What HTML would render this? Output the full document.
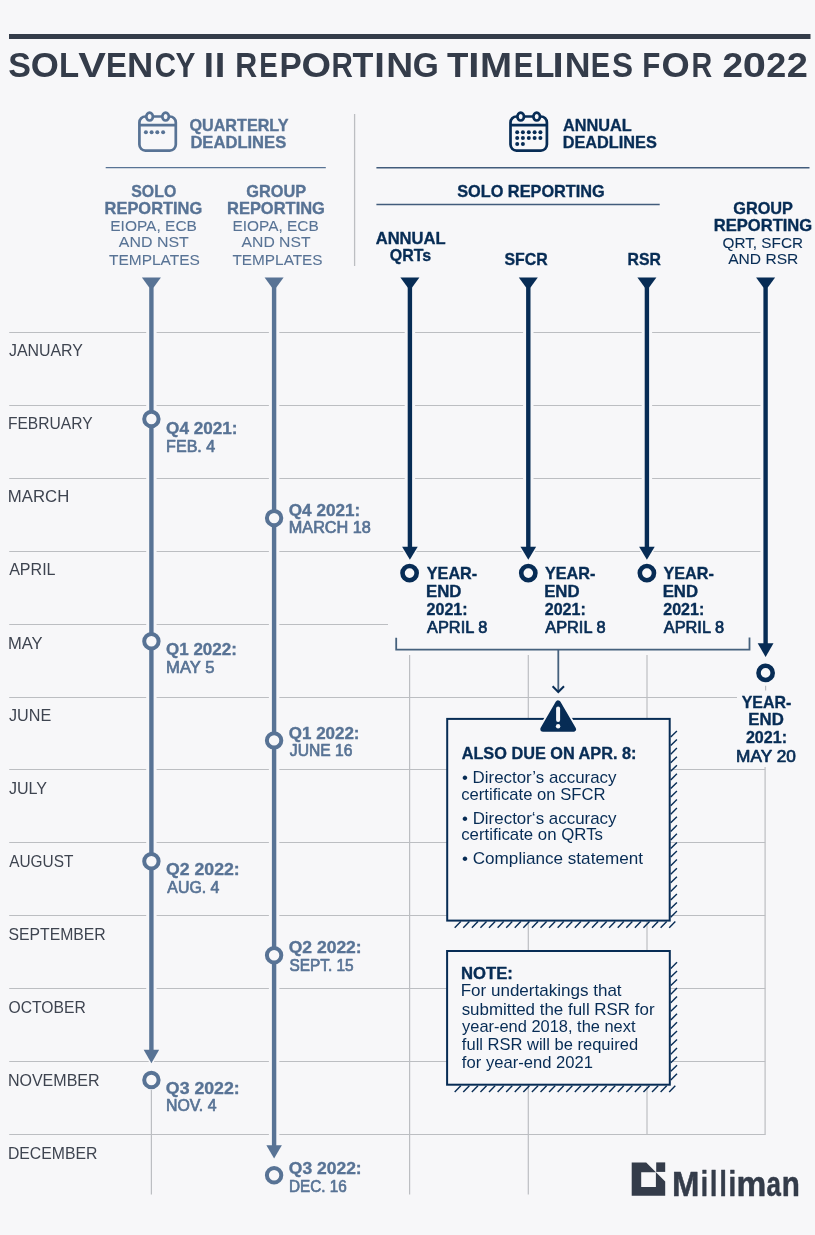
<!DOCTYPE html>
<html><head><meta charset="utf-8"><title>Solvency II Reporting Timelines for 2022</title>
<style>
html,body{margin:0;padding:0;background:#f7f7f9;}
body{width:815px;height:1235px;overflow:hidden;}
svg{display:block;will-change:transform;font-family:"Liberation Sans",sans-serif;}
</style></head><body>
<svg width="815" height="1235" viewBox="0 0 815 1235">
<rect width="815" height="1235" fill="#f7f7f9"/>
<line x1="9.2" y1="332.5" x2="765.6" y2="332.5" stroke="#bcbec2" stroke-width="1.2"/>
<line x1="9.2" y1="405.5" x2="765.6" y2="405.5" stroke="#bcbec2" stroke-width="1.2"/>
<line x1="9.2" y1="478.5" x2="765.6" y2="478.5" stroke="#bcbec2" stroke-width="1.2"/>
<line x1="9.2" y1="551.5" x2="765.6" y2="551.5" stroke="#bcbec2" stroke-width="1.2"/>
<line x1="9.2" y1="624.5" x2="388" y2="624.5" stroke="#bcbec2" stroke-width="1.2"/>
<line x1="9.2" y1="697.5" x2="737" y2="697.5" stroke="#bcbec2" stroke-width="1.2"/>
<line x1="9.2" y1="769.5" x2="765.2" y2="769.5" stroke="#bcbec2" stroke-width="1.2"/>
<line x1="9.2" y1="842.5" x2="765.2" y2="842.5" stroke="#bcbec2" stroke-width="1.2"/>
<line x1="9.2" y1="915.5" x2="765.2" y2="915.5" stroke="#bcbec2" stroke-width="1.2"/>
<line x1="9.2" y1="988.5" x2="765.2" y2="988.5" stroke="#bcbec2" stroke-width="1.2"/>
<line x1="9.2" y1="1061.5" x2="765.2" y2="1061.5" stroke="#bcbec2" stroke-width="1.2"/>
<line x1="9.2" y1="1134.5" x2="765.2" y2="1134.5" stroke="#bcbec2" stroke-width="1.2"/>
<line x1="151.4" y1="1090" x2="151.4" y2="1194.5" stroke="#bcbec2" stroke-width="1.2"/>
<line x1="409.6" y1="655" x2="409.6" y2="1194.5" stroke="#bcbec2" stroke-width="1.2"/>
<line x1="528.3" y1="655" x2="528.3" y2="1194.5" stroke="#bcbec2" stroke-width="1.2"/>
<line x1="647.0" y1="655" x2="647.0" y2="1135" stroke="#bcbec2" stroke-width="1.2"/>
<line x1="765.6" y1="685.8" x2="765.6" y2="690.5" stroke="#bcbec2" stroke-width="1.2"/>
<line x1="765.1" y1="767" x2="765.1" y2="1135" stroke="#bcbec2" stroke-width="1.2"/>
<rect x="9" y="34" width="801.5" height="5" fill="#343c4a"/>
<line x1="105.7" y1="167.6" x2="325.8" y2="167.6" stroke="#587395" stroke-width="1.1"/>
<line x1="354.6" y1="114" x2="354.6" y2="266" stroke="#bcbec2" stroke-width="1.3"/>
<line x1="376.4" y1="167.7" x2="809.5" y2="167.7" stroke="#425c7c" stroke-width="1.4"/>
<line x1="376.4" y1="204.5" x2="659.7" y2="204.5" stroke="#425c7c" stroke-width="1.4"/>
<g fill="none" stroke="#587395" stroke-width="2.7">
<rect x="139.4" y="116.5" width="36.4" height="34.1" rx="6"/>
<line x1="139.4" y1="125.2" x2="175.8" y2="125.2"/>
<ellipse cx="149.6" cy="116.6" rx="3.3" ry="3.9" fill="#f7f7f9"/>
<ellipse cx="165.6" cy="116.6" rx="3.3" ry="3.9" fill="#f7f7f9"/>
</g>
<circle cx="145.9" cy="132.3" r="2.0" fill="#587395"/>
<circle cx="151.6" cy="132.3" r="2.0" fill="#587395"/>
<circle cx="157.3" cy="132.3" r="2.0" fill="#587395"/>
<circle cx="163.1" cy="132.3" r="2.0" fill="#587395"/>
<g fill="none" stroke="#072c55" stroke-width="2.7">
<rect x="510.5" y="116.5" width="36.4" height="34.1" rx="6"/>
<line x1="510.5" y1="125.2" x2="546.9000000000001" y2="125.2"/>
<ellipse cx="520.7" cy="116.6" rx="3.3" ry="3.9" fill="#f7f7f9"/>
<ellipse cx="536.7" cy="116.6" rx="3.3" ry="3.9" fill="#f7f7f9"/>
</g>
<circle cx="517.2" cy="132.3" r="2.0" fill="#072c55"/>
<circle cx="517.2" cy="138.1" r="2.0" fill="#072c55"/>
<circle cx="522.9" cy="132.3" r="2.0" fill="#072c55"/>
<circle cx="522.9" cy="138.1" r="2.0" fill="#072c55"/>
<circle cx="528.8" cy="132.3" r="2.0" fill="#072c55"/>
<circle cx="528.8" cy="138.1" r="2.0" fill="#072c55"/>
<circle cx="534.6" cy="132.3" r="2.0" fill="#072c55"/>
<circle cx="534.6" cy="138.1" r="2.0" fill="#072c55"/>
<circle cx="540.4" cy="132.3" r="2.0" fill="#072c55"/>
<circle cx="540.4" cy="138.1" r="2.0" fill="#072c55"/>
<circle cx="517.2" cy="144.0" r="2.0" fill="#072c55"/>
<circle cx="522.9" cy="144.0" r="2.0" fill="#072c55"/>
<line x1="151.4" y1="277" x2="151.4" y2="1049.8" stroke="#f7f7f9" stroke-width="10.4"/>
<polygon points="141.15,1048.3 161.65,1048.3 151.4,1066.3" fill="#f7f7f9"/>
<polygon points="141.9,277.4 160.9,277.4 153.6,287.5 149.20000000000002,287.5" fill="#587395"/>
<line x1="151.4" y1="286" x2="151.4" y2="1050.8" stroke="#587395" stroke-width="4.4"/>
<polygon points="143.65,1049.8 159.15,1049.8 151.4,1063.3" fill="#587395"/>
<line x1="274.1" y1="277" x2="274.1" y2="1145.3" stroke="#f7f7f9" stroke-width="10.4"/>
<polygon points="263.85,1143.8 284.35,1143.8 274.1,1161.4" fill="#f7f7f9"/>
<polygon points="264.6,277.4 283.6,277.4 276.3,287.5 271.90000000000003,287.5" fill="#587395"/>
<line x1="274.1" y1="286" x2="274.1" y2="1146.3" stroke="#587395" stroke-width="4.4"/>
<polygon points="266.35,1145.3 281.85,1145.3 274.1,1158.4" fill="#587395"/>
<line x1="409.9" y1="277" x2="409.9" y2="546.8" stroke="#f7f7f9" stroke-width="10.4"/>
<polygon points="399.59999999999997,545.3 420.2,545.3 409.9,562.8" fill="#f7f7f9"/>
<polygon points="400.4,277.4 419.4,277.4 412.09999999999997,287.5 407.7,287.5" fill="#072c55"/>
<line x1="409.9" y1="286" x2="409.9" y2="547.8" stroke="#072c55" stroke-width="4.4"/>
<polygon points="402.09999999999997,546.8 417.7,546.8 409.9,559.8" fill="#072c55"/>
<line x1="528.3" y1="277" x2="528.3" y2="546.8" stroke="#f7f7f9" stroke-width="10.4"/>
<polygon points="518.0,545.3 538.5999999999999,545.3 528.3,562.8" fill="#f7f7f9"/>
<polygon points="518.8,277.4 537.8,277.4 530.5,287.5 526.0999999999999,287.5" fill="#072c55"/>
<line x1="528.3" y1="286" x2="528.3" y2="547.8" stroke="#072c55" stroke-width="4.4"/>
<polygon points="520.5,546.8 536.0999999999999,546.8 528.3,559.8" fill="#072c55"/>
<line x1="646.9" y1="277" x2="646.9" y2="546.8" stroke="#f7f7f9" stroke-width="10.4"/>
<polygon points="636.6,545.3 657.1999999999999,545.3 646.9,562.8" fill="#f7f7f9"/>
<polygon points="637.4,277.4 656.4,277.4 649.1,287.5 644.6999999999999,287.5" fill="#072c55"/>
<line x1="646.9" y1="286" x2="646.9" y2="547.8" stroke="#072c55" stroke-width="4.4"/>
<polygon points="639.1,546.8 654.6999999999999,546.8 646.9,559.8" fill="#072c55"/>
<line x1="765.6" y1="277" x2="765.6" y2="643.3" stroke="#f7f7f9" stroke-width="10.4"/>
<polygon points="755.2,641.8 776.0,641.8 765.6,659.9" fill="#f7f7f9"/>
<polygon points="756.1,277.4 775.1,277.4 767.8000000000001,287.5 763.4,287.5" fill="#072c55"/>
<line x1="765.6" y1="286" x2="765.6" y2="644.3" stroke="#072c55" stroke-width="4.4"/>
<polygon points="757.7,643.3 773.5,643.3 765.6,656.9" fill="#072c55"/>
<circle cx="151.4" cy="419" r="7.2" fill="#f7f7f9" stroke="#587395" stroke-width="4.0"/>
<circle cx="151.4" cy="641.3" r="7.2" fill="#f7f7f9" stroke="#587395" stroke-width="4.0"/>
<circle cx="151.4" cy="861.3" r="7.2" fill="#f7f7f9" stroke="#587395" stroke-width="4.0"/>
<circle cx="151.4" cy="1080" r="7.2" fill="#f7f7f9" stroke="#587395" stroke-width="4.0"/>
<circle cx="274.1" cy="518.1" r="7.2" fill="#f7f7f9" stroke="#587395" stroke-width="4.0"/>
<circle cx="274.1" cy="740.4" r="7.2" fill="#f7f7f9" stroke="#587395" stroke-width="4.0"/>
<circle cx="274.1" cy="955.2" r="7.2" fill="#f7f7f9" stroke="#587395" stroke-width="4.0"/>
<circle cx="274.1" cy="1175.2" r="7.2" fill="#f7f7f9" stroke="#587395" stroke-width="4.0"/>
<circle cx="409.6" cy="573.1" r="7.1" fill="#f7f7f9" stroke="#072c55" stroke-width="4.6"/>
<circle cx="528.3" cy="573.1" r="7.1" fill="#f7f7f9" stroke="#072c55" stroke-width="4.6"/>
<circle cx="646.9" cy="573.1" r="7.1" fill="#f7f7f9" stroke="#072c55" stroke-width="4.6"/>
<circle cx="765.6" cy="672.9" r="7.1" fill="#f7f7f9" stroke="#072c55" stroke-width="4.6"/>
<path d="M396.2,637.7 V649.6 H749.5 V637.4" fill="none" stroke="#45617d" stroke-width="1.8"/>
<line x1="558.3" y1="649.8" x2="558.3" y2="691" stroke="#45617d" stroke-width="1.8"/>
<path d="M552.6,686.3 L558.3,692 L564,686.3" fill="none" stroke="#072c55" stroke-width="2"/>
<rect x="447.2" y="718.9" width="222.50000000000006" height="201.70000000000005" fill="#f7f7f9" stroke="#072c55" stroke-width="2"/>
<line x1="670.70" y1="737.00" x2="676.90" y2="730.90" stroke="#072c55" stroke-width="1.4"/>
<line x1="670.70" y1="745.58" x2="676.90" y2="739.48" stroke="#072c55" stroke-width="1.4"/>
<line x1="670.70" y1="754.16" x2="676.90" y2="748.06" stroke="#072c55" stroke-width="1.4"/>
<line x1="670.70" y1="762.74" x2="676.90" y2="756.64" stroke="#072c55" stroke-width="1.4"/>
<line x1="670.70" y1="771.32" x2="676.90" y2="765.22" stroke="#072c55" stroke-width="1.4"/>
<line x1="670.70" y1="779.90" x2="676.90" y2="773.80" stroke="#072c55" stroke-width="1.4"/>
<line x1="670.70" y1="788.48" x2="676.90" y2="782.38" stroke="#072c55" stroke-width="1.4"/>
<line x1="670.70" y1="797.06" x2="676.90" y2="790.96" stroke="#072c55" stroke-width="1.4"/>
<line x1="670.70" y1="805.64" x2="676.90" y2="799.54" stroke="#072c55" stroke-width="1.4"/>
<line x1="670.70" y1="814.22" x2="676.90" y2="808.12" stroke="#072c55" stroke-width="1.4"/>
<line x1="670.70" y1="822.80" x2="676.90" y2="816.70" stroke="#072c55" stroke-width="1.4"/>
<line x1="670.70" y1="831.38" x2="676.90" y2="825.28" stroke="#072c55" stroke-width="1.4"/>
<line x1="670.70" y1="839.96" x2="676.90" y2="833.86" stroke="#072c55" stroke-width="1.4"/>
<line x1="670.70" y1="848.54" x2="676.90" y2="842.44" stroke="#072c55" stroke-width="1.4"/>
<line x1="670.70" y1="857.12" x2="676.90" y2="851.02" stroke="#072c55" stroke-width="1.4"/>
<line x1="670.70" y1="865.70" x2="676.90" y2="859.60" stroke="#072c55" stroke-width="1.4"/>
<line x1="670.70" y1="874.28" x2="676.90" y2="868.18" stroke="#072c55" stroke-width="1.4"/>
<line x1="670.70" y1="882.86" x2="676.90" y2="876.76" stroke="#072c55" stroke-width="1.4"/>
<line x1="670.70" y1="891.44" x2="676.90" y2="885.34" stroke="#072c55" stroke-width="1.4"/>
<line x1="670.70" y1="900.02" x2="676.90" y2="893.92" stroke="#072c55" stroke-width="1.4"/>
<line x1="670.70" y1="908.60" x2="676.90" y2="902.50" stroke="#072c55" stroke-width="1.4"/>
<line x1="670.70" y1="917.18" x2="676.90" y2="911.08" stroke="#072c55" stroke-width="1.4"/>
<line x1="454.70" y1="927.80" x2="460.80" y2="921.60" stroke="#072c55" stroke-width="1.4"/>
<line x1="463.28" y1="927.80" x2="469.38" y2="921.60" stroke="#072c55" stroke-width="1.4"/>
<line x1="471.86" y1="927.80" x2="477.96" y2="921.60" stroke="#072c55" stroke-width="1.4"/>
<line x1="480.44" y1="927.80" x2="486.54" y2="921.60" stroke="#072c55" stroke-width="1.4"/>
<line x1="489.02" y1="927.80" x2="495.12" y2="921.60" stroke="#072c55" stroke-width="1.4"/>
<line x1="497.60" y1="927.80" x2="503.70" y2="921.60" stroke="#072c55" stroke-width="1.4"/>
<line x1="506.18" y1="927.80" x2="512.28" y2="921.60" stroke="#072c55" stroke-width="1.4"/>
<line x1="514.76" y1="927.80" x2="520.86" y2="921.60" stroke="#072c55" stroke-width="1.4"/>
<line x1="523.34" y1="927.80" x2="529.44" y2="921.60" stroke="#072c55" stroke-width="1.4"/>
<line x1="531.92" y1="927.80" x2="538.02" y2="921.60" stroke="#072c55" stroke-width="1.4"/>
<line x1="540.50" y1="927.80" x2="546.60" y2="921.60" stroke="#072c55" stroke-width="1.4"/>
<line x1="549.08" y1="927.80" x2="555.18" y2="921.60" stroke="#072c55" stroke-width="1.4"/>
<line x1="557.66" y1="927.80" x2="563.76" y2="921.60" stroke="#072c55" stroke-width="1.4"/>
<line x1="566.24" y1="927.80" x2="572.34" y2="921.60" stroke="#072c55" stroke-width="1.4"/>
<line x1="574.82" y1="927.80" x2="580.92" y2="921.60" stroke="#072c55" stroke-width="1.4"/>
<line x1="583.40" y1="927.80" x2="589.50" y2="921.60" stroke="#072c55" stroke-width="1.4"/>
<line x1="591.98" y1="927.80" x2="598.08" y2="921.60" stroke="#072c55" stroke-width="1.4"/>
<line x1="600.56" y1="927.80" x2="606.66" y2="921.60" stroke="#072c55" stroke-width="1.4"/>
<line x1="609.14" y1="927.80" x2="615.24" y2="921.60" stroke="#072c55" stroke-width="1.4"/>
<line x1="617.72" y1="927.80" x2="623.82" y2="921.60" stroke="#072c55" stroke-width="1.4"/>
<line x1="626.30" y1="927.80" x2="632.40" y2="921.60" stroke="#072c55" stroke-width="1.4"/>
<line x1="634.88" y1="927.80" x2="640.98" y2="921.60" stroke="#072c55" stroke-width="1.4"/>
<line x1="643.46" y1="927.80" x2="649.56" y2="921.60" stroke="#072c55" stroke-width="1.4"/>
<line x1="652.04" y1="927.80" x2="658.14" y2="921.60" stroke="#072c55" stroke-width="1.4"/>
<line x1="660.62" y1="927.80" x2="666.72" y2="921.60" stroke="#072c55" stroke-width="1.4"/>
<line x1="669.20" y1="927.80" x2="675.30" y2="921.60" stroke="#072c55" stroke-width="1.4"/>
<rect x="447.1" y="951.0" width="222.69999999999993" height="133.70000000000005" fill="#f7f7f9" stroke="#072c55" stroke-width="2"/>
<line x1="670.80" y1="968.40" x2="677.00" y2="962.30" stroke="#072c55" stroke-width="1.4"/>
<line x1="670.80" y1="976.98" x2="677.00" y2="970.88" stroke="#072c55" stroke-width="1.4"/>
<line x1="670.80" y1="985.56" x2="677.00" y2="979.46" stroke="#072c55" stroke-width="1.4"/>
<line x1="670.80" y1="994.14" x2="677.00" y2="988.04" stroke="#072c55" stroke-width="1.4"/>
<line x1="670.80" y1="1002.72" x2="677.00" y2="996.62" stroke="#072c55" stroke-width="1.4"/>
<line x1="670.80" y1="1011.30" x2="677.00" y2="1005.20" stroke="#072c55" stroke-width="1.4"/>
<line x1="670.80" y1="1019.88" x2="677.00" y2="1013.78" stroke="#072c55" stroke-width="1.4"/>
<line x1="670.80" y1="1028.46" x2="677.00" y2="1022.36" stroke="#072c55" stroke-width="1.4"/>
<line x1="670.80" y1="1037.04" x2="677.00" y2="1030.94" stroke="#072c55" stroke-width="1.4"/>
<line x1="670.80" y1="1045.62" x2="677.00" y2="1039.52" stroke="#072c55" stroke-width="1.4"/>
<line x1="670.80" y1="1054.20" x2="677.00" y2="1048.10" stroke="#072c55" stroke-width="1.4"/>
<line x1="670.80" y1="1062.78" x2="677.00" y2="1056.68" stroke="#072c55" stroke-width="1.4"/>
<line x1="670.80" y1="1071.36" x2="677.00" y2="1065.26" stroke="#072c55" stroke-width="1.4"/>
<line x1="670.80" y1="1079.94" x2="677.00" y2="1073.84" stroke="#072c55" stroke-width="1.4"/>
<line x1="454.70" y1="1091.90" x2="460.80" y2="1085.70" stroke="#072c55" stroke-width="1.4"/>
<line x1="463.28" y1="1091.90" x2="469.38" y2="1085.70" stroke="#072c55" stroke-width="1.4"/>
<line x1="471.86" y1="1091.90" x2="477.96" y2="1085.70" stroke="#072c55" stroke-width="1.4"/>
<line x1="480.44" y1="1091.90" x2="486.54" y2="1085.70" stroke="#072c55" stroke-width="1.4"/>
<line x1="489.02" y1="1091.90" x2="495.12" y2="1085.70" stroke="#072c55" stroke-width="1.4"/>
<line x1="497.60" y1="1091.90" x2="503.70" y2="1085.70" stroke="#072c55" stroke-width="1.4"/>
<line x1="506.18" y1="1091.90" x2="512.28" y2="1085.70" stroke="#072c55" stroke-width="1.4"/>
<line x1="514.76" y1="1091.90" x2="520.86" y2="1085.70" stroke="#072c55" stroke-width="1.4"/>
<line x1="523.34" y1="1091.90" x2="529.44" y2="1085.70" stroke="#072c55" stroke-width="1.4"/>
<line x1="531.92" y1="1091.90" x2="538.02" y2="1085.70" stroke="#072c55" stroke-width="1.4"/>
<line x1="540.50" y1="1091.90" x2="546.60" y2="1085.70" stroke="#072c55" stroke-width="1.4"/>
<line x1="549.08" y1="1091.90" x2="555.18" y2="1085.70" stroke="#072c55" stroke-width="1.4"/>
<line x1="557.66" y1="1091.90" x2="563.76" y2="1085.70" stroke="#072c55" stroke-width="1.4"/>
<line x1="566.24" y1="1091.90" x2="572.34" y2="1085.70" stroke="#072c55" stroke-width="1.4"/>
<line x1="574.82" y1="1091.90" x2="580.92" y2="1085.70" stroke="#072c55" stroke-width="1.4"/>
<line x1="583.40" y1="1091.90" x2="589.50" y2="1085.70" stroke="#072c55" stroke-width="1.4"/>
<line x1="591.98" y1="1091.90" x2="598.08" y2="1085.70" stroke="#072c55" stroke-width="1.4"/>
<line x1="600.56" y1="1091.90" x2="606.66" y2="1085.70" stroke="#072c55" stroke-width="1.4"/>
<line x1="609.14" y1="1091.90" x2="615.24" y2="1085.70" stroke="#072c55" stroke-width="1.4"/>
<line x1="617.72" y1="1091.90" x2="623.82" y2="1085.70" stroke="#072c55" stroke-width="1.4"/>
<line x1="626.30" y1="1091.90" x2="632.40" y2="1085.70" stroke="#072c55" stroke-width="1.4"/>
<line x1="634.88" y1="1091.90" x2="640.98" y2="1085.70" stroke="#072c55" stroke-width="1.4"/>
<line x1="643.46" y1="1091.90" x2="649.56" y2="1085.70" stroke="#072c55" stroke-width="1.4"/>
<line x1="652.04" y1="1091.90" x2="658.14" y2="1085.70" stroke="#072c55" stroke-width="1.4"/>
<line x1="660.62" y1="1091.90" x2="666.72" y2="1085.70" stroke="#072c55" stroke-width="1.4"/>
<line x1="669.20" y1="1091.90" x2="675.30" y2="1085.70" stroke="#072c55" stroke-width="1.4"/>
<path d="M558.1,703.05 L573.25,729.05 L543.05,729.05 Z" fill="#f7f7f9" stroke="#f7f7f9" stroke-width="9" stroke-linejoin="round"/>
<path d="M558.1,703.05 L573.25,729.05 L543.05,729.05 Z" fill="#072c55" stroke="#072c55" stroke-width="5.5" stroke-linejoin="round"/>
<line x1="558.1" y1="708.6" x2="558.1" y2="720" stroke="#f7f7f9" stroke-width="4" stroke-linecap="round"/>
<circle cx="558.1" cy="726.2" r="2.2" fill="#f7f7f9"/>
<path fill="#343c4a" fill-rule="evenodd" d="M631.7,1162.4 H646.2 L665.2,1181.4 V1195.8 H631.7 Z M641.2,1172.2 V1186.9 H655.9 V1172.2 Z"/>
<rect x="656.2" y="1162.4" width="9" height="9.5" fill="#343c4a"/>
<text x="8.32" y="77.00" font-size="35.5" font-weight="bold" fill="#343c4a" textLength="22.71" lengthAdjust="spacingAndGlyphs">S</text>
<text x="30.72" y="77.00" font-size="35.5" font-weight="bold" fill="#343c4a" textLength="28.10" lengthAdjust="spacingAndGlyphs">O</text>
<text x="58.90" y="77.00" font-size="35.5" font-weight="bold" fill="#343c4a" textLength="20.12" lengthAdjust="spacingAndGlyphs">L</text>
<text x="78.22" y="77.00" font-size="35.5" font-weight="bold" fill="#343c4a" textLength="27.67" lengthAdjust="spacingAndGlyphs">V</text>
<text x="106.10" y="77.00" font-size="35.5" font-weight="bold" fill="#343c4a" textLength="20.92" lengthAdjust="spacingAndGlyphs">E</text>
<text x="127.06" y="77.00" font-size="35.5" font-weight="bold" fill="#343c4a" textLength="26.29" lengthAdjust="spacingAndGlyphs">N</text>
<text x="154.69" y="77.00" font-size="35.5" font-weight="bold" fill="#343c4a" textLength="21.32" lengthAdjust="spacingAndGlyphs">C</text>
<text x="175.49" y="77.00" font-size="35.5" font-weight="bold" fill="#343c4a" textLength="19.89" lengthAdjust="spacingAndGlyphs">Y</text>
<text x="203.84" y="77.00" font-size="35.5" font-weight="bold" fill="#343c4a" textLength="10.22" lengthAdjust="spacingAndGlyphs">I</text>
<text x="214.65" y="77.00" font-size="35.5" font-weight="bold" fill="#343c4a" textLength="10.61" lengthAdjust="spacingAndGlyphs">I</text>
<text x="235.27" y="77.00" font-size="35.5" font-weight="bold" fill="#343c4a" textLength="21.96" lengthAdjust="spacingAndGlyphs">R</text>
<text x="259.34" y="77.00" font-size="35.5" font-weight="bold" fill="#343c4a" textLength="18.55" lengthAdjust="spacingAndGlyphs">E</text>
<text x="279.57" y="77.00" font-size="35.5" font-weight="bold" fill="#343c4a" textLength="22.28" lengthAdjust="spacingAndGlyphs">P</text>
<text x="301.64" y="77.00" font-size="35.5" font-weight="bold" fill="#343c4a" textLength="29.55" lengthAdjust="spacingAndGlyphs">O</text>
<text x="331.42" y="77.00" font-size="35.5" font-weight="bold" fill="#343c4a" textLength="21.39" lengthAdjust="spacingAndGlyphs">R</text>
<text x="352.62" y="77.00" font-size="35.5" font-weight="bold" fill="#343c4a" textLength="20.85" lengthAdjust="spacingAndGlyphs">T</text>
<text x="374.35" y="77.00" font-size="35.5" font-weight="bold" fill="#343c4a" textLength="10.61" lengthAdjust="spacingAndGlyphs">I</text>
<text x="386.31" y="77.00" font-size="35.5" font-weight="bold" fill="#343c4a" textLength="26.90" lengthAdjust="spacingAndGlyphs">N</text>
<text x="412.63" y="77.00" font-size="35.5" font-weight="bold" fill="#343c4a" textLength="26.05" lengthAdjust="spacingAndGlyphs">G</text>
<text x="447.01" y="77.00" font-size="35.5" font-weight="bold" fill="#343c4a" textLength="21.37" lengthAdjust="spacingAndGlyphs">T</text>
<text x="468.31" y="77.00" font-size="35.5" font-weight="bold" fill="#343c4a" textLength="11.19" lengthAdjust="spacingAndGlyphs">I</text>
<text x="480.03" y="77.00" font-size="35.5" font-weight="bold" fill="#343c4a" textLength="32.05" lengthAdjust="spacingAndGlyphs">M</text>
<text x="513.84" y="77.00" font-size="35.5" font-weight="bold" fill="#343c4a" textLength="19.50" lengthAdjust="spacingAndGlyphs">E</text>
<text x="535.08" y="77.00" font-size="35.5" font-weight="bold" fill="#343c4a" textLength="19.40" lengthAdjust="spacingAndGlyphs">L</text>
<text x="552.61" y="77.00" font-size="35.5" font-weight="bold" fill="#343c4a" textLength="11.19" lengthAdjust="spacingAndGlyphs">I</text>
<text x="564.81" y="77.00" font-size="35.5" font-weight="bold" fill="#343c4a" textLength="25.80" lengthAdjust="spacingAndGlyphs">N</text>
<text x="590.76" y="77.00" font-size="35.5" font-weight="bold" fill="#343c4a" textLength="19.38" lengthAdjust="spacingAndGlyphs">E</text>
<text x="611.89" y="77.00" font-size="35.5" font-weight="bold" fill="#343c4a" textLength="21.04" lengthAdjust="spacingAndGlyphs">S</text>
<text x="642.32" y="77.00" font-size="35.5" font-weight="bold" fill="#343c4a" textLength="18.06" lengthAdjust="spacingAndGlyphs">F</text>
<text x="661.61" y="77.00" font-size="35.5" font-weight="bold" fill="#343c4a" textLength="28.21" lengthAdjust="spacingAndGlyphs">O</text>
<text x="691.38" y="77.00" font-size="35.5" font-weight="bold" fill="#343c4a" textLength="20.71" lengthAdjust="spacingAndGlyphs">R</text>
<text x="722.52" y="77.00" font-size="35.5" font-weight="bold" fill="#343c4a" textLength="20.56" lengthAdjust="spacingAndGlyphs">2</text>
<text x="742.75" y="77.00" font-size="35.5" font-weight="bold" fill="#343c4a" textLength="23.15" lengthAdjust="spacingAndGlyphs">0</text>
<text x="766.15" y="77.00" font-size="35.5" font-weight="bold" fill="#343c4a" textLength="19.98" lengthAdjust="spacingAndGlyphs">2</text>
<text x="786.88" y="77.00" font-size="35.5" font-weight="bold" fill="#343c4a" textLength="21.14" lengthAdjust="spacingAndGlyphs">2</text>
<text x="189.45" y="130.50" font-size="17" font-weight="bold" fill="#587395" textLength="99.11" lengthAdjust="spacingAndGlyphs" stroke="#587395" stroke-width="0.35" stroke-linejoin="round">QUARTERLY</text>
<text x="190.39" y="148.10" font-size="17" font-weight="bold" fill="#587395" textLength="95.86" lengthAdjust="spacingAndGlyphs" stroke="#587395" stroke-width="0.35" stroke-linejoin="round">DEADLINES</text>
<text x="562.99" y="130.50" font-size="17" font-weight="bold" fill="#072c55" textLength="68.81" lengthAdjust="spacingAndGlyphs" stroke="#072c55" stroke-width="0.35" stroke-linejoin="round">ANNUAL</text>
<text x="562.71" y="148.10" font-size="17" font-weight="bold" fill="#072c55" textLength="94.13" lengthAdjust="spacingAndGlyphs" stroke="#072c55" stroke-width="0.35" stroke-linejoin="round">DEADLINES</text>
<text x="131.24" y="197.30" font-size="16.6" font-weight="bold" fill="#587395" textLength="45.03" lengthAdjust="spacingAndGlyphs" stroke="#587395" stroke-width="0.35" stroke-linejoin="round">SOLO</text>
<text x="104.60" y="214.10" font-size="16.6" font-weight="bold" fill="#587395" textLength="97.62" lengthAdjust="spacingAndGlyphs" stroke="#587395" stroke-width="0.35" stroke-linejoin="round">REPORTING</text>
<text x="110.25" y="231.00" font-size="15" font-weight="normal" fill="#587395" textLength="86.66" lengthAdjust="spacingAndGlyphs" stroke="#587395" stroke-width="0.08" stroke-linejoin="round">EIOPA, ECB</text>
<text x="118.87" y="247.20" font-size="15" font-weight="normal" fill="#587395" textLength="69.90" lengthAdjust="spacingAndGlyphs" stroke="#587395" stroke-width="0.08" stroke-linejoin="round">AND NST</text>
<text x="109.06" y="264.80" font-size="15" font-weight="normal" fill="#587395" textLength="90.84" lengthAdjust="spacingAndGlyphs" stroke="#587395" stroke-width="0.08" stroke-linejoin="round">TEMPLATES</text>
<text x="246.33" y="197.30" font-size="16.6" font-weight="bold" fill="#587395" textLength="59.93" lengthAdjust="spacingAndGlyphs" stroke="#587395" stroke-width="0.35" stroke-linejoin="round">GROUP</text>
<text x="227.00" y="214.10" font-size="16.6" font-weight="bold" fill="#587395" textLength="97.92" lengthAdjust="spacingAndGlyphs" stroke="#587395" stroke-width="0.35" stroke-linejoin="round">REPORTING</text>
<text x="232.55" y="231.00" font-size="15" font-weight="normal" fill="#587395" textLength="86.15" lengthAdjust="spacingAndGlyphs" stroke="#587395" stroke-width="0.08" stroke-linejoin="round">EIOPA, ECB</text>
<text x="241.57" y="247.20" font-size="15" font-weight="normal" fill="#587395" textLength="68.99" lengthAdjust="spacingAndGlyphs" stroke="#587395" stroke-width="0.08" stroke-linejoin="round">AND NST</text>
<text x="232.46" y="264.80" font-size="15" font-weight="normal" fill="#587395" textLength="90.14" lengthAdjust="spacingAndGlyphs" stroke="#587395" stroke-width="0.08" stroke-linejoin="round">TEMPLATES</text>
<text x="457.13" y="197.30" font-size="16.6" font-weight="bold" fill="#072c55" textLength="147.68" lengthAdjust="spacingAndGlyphs" stroke="#072c55" stroke-width="0.35" stroke-linejoin="round">SOLO REPORTING</text>
<text x="375.69" y="244.30" font-size="16.6" font-weight="bold" fill="#072c55" textLength="69.92" lengthAdjust="spacingAndGlyphs" stroke="#072c55" stroke-width="0.35" stroke-linejoin="round">ANNUAL</text>
<text x="389.76" y="260.90" font-size="16.6" font-weight="bold" fill="#072c55" textLength="41.37" lengthAdjust="spacingAndGlyphs" stroke="#072c55" stroke-width="0.35" stroke-linejoin="round">QRTs</text>
<text x="504.54" y="265.20" font-size="16.6" font-weight="bold" fill="#072c55" textLength="43.18" lengthAdjust="spacingAndGlyphs" stroke="#072c55" stroke-width="0.35" stroke-linejoin="round">SFCR</text>
<text x="627.54" y="265.20" font-size="16.6" font-weight="bold" fill="#072c55" textLength="33.38" lengthAdjust="spacingAndGlyphs" stroke="#072c55" stroke-width="0.35" stroke-linejoin="round">RSR</text>
<text x="733.23" y="213.70" font-size="16.6" font-weight="bold" fill="#072c55" textLength="59.72" lengthAdjust="spacingAndGlyphs" stroke="#072c55" stroke-width="0.35" stroke-linejoin="round">GROUP</text>
<text x="713.69" y="230.60" font-size="16.6" font-weight="bold" fill="#072c55" textLength="98.54" lengthAdjust="spacingAndGlyphs" stroke="#072c55" stroke-width="0.35" stroke-linejoin="round">REPORTING</text>
<text x="722.59" y="247.90" font-size="15.5" font-weight="normal" fill="#072c55" textLength="80.40" lengthAdjust="spacingAndGlyphs" stroke="#072c55" stroke-width="0.08" stroke-linejoin="round">QRT, SFCR</text>
<text x="728.17" y="264.40" font-size="15.5" font-weight="normal" fill="#072c55" textLength="70.15" lengthAdjust="spacingAndGlyphs" stroke="#072c55" stroke-width="0.08" stroke-linejoin="round">AND RSR</text>
<text x="8.95" y="356.20" font-size="17" font-weight="normal" fill="#3e4450" textLength="74.00" lengthAdjust="spacingAndGlyphs">JANUARY</text>
<text x="7.93" y="428.80" font-size="17" font-weight="normal" fill="#3e4450" textLength="84.62" lengthAdjust="spacingAndGlyphs">FEBRUARY</text>
<text x="7.83" y="502.00" font-size="17" font-weight="normal" fill="#3e4450" textLength="61.44" lengthAdjust="spacingAndGlyphs">MARCH</text>
<text x="9.17" y="575.40" font-size="17" font-weight="normal" fill="#3e4450" textLength="46.36" lengthAdjust="spacingAndGlyphs">APRIL</text>
<text x="7.89" y="648.50" font-size="17" font-weight="normal" fill="#3e4450" textLength="34.66" lengthAdjust="spacingAndGlyphs">MAY</text>
<text x="8.95" y="721.00" font-size="17" font-weight="normal" fill="#3e4450" textLength="42.25" lengthAdjust="spacingAndGlyphs">JUNE</text>
<text x="8.96" y="794.20" font-size="17" font-weight="normal" fill="#3e4450" textLength="38.09" lengthAdjust="spacingAndGlyphs">JULY</text>
<text x="9.17" y="866.70" font-size="17" font-weight="normal" fill="#3e4450" textLength="64.18" lengthAdjust="spacingAndGlyphs">AUGUST</text>
<text x="8.48" y="940.20" font-size="17" font-weight="normal" fill="#3e4450" textLength="97.25" lengthAdjust="spacingAndGlyphs">SEPTEMBER</text>
<text x="8.46" y="1013.20" font-size="17" font-weight="normal" fill="#3e4450" textLength="77.26" lengthAdjust="spacingAndGlyphs">OCTOBER</text>
<text x="7.88" y="1086.40" font-size="17" font-weight="normal" fill="#3e4450" textLength="91.76" lengthAdjust="spacingAndGlyphs">NOVEMBER</text>
<text x="7.90" y="1159.30" font-size="17" font-weight="normal" fill="#3e4450" textLength="89.53" lengthAdjust="spacingAndGlyphs">DECEMBER</text>
<text x="166.10" y="433.80" font-size="16.2" font-weight="bold" fill="#587395" textLength="71.45" lengthAdjust="spacingAndGlyphs" stroke="#587395" stroke-width="0.35" stroke-linejoin="round">Q4 2021:</text>
<text x="166.08" y="451.70" font-size="16.5" font-weight="normal" fill="#587395" textLength="49.19" lengthAdjust="spacingAndGlyphs" stroke="#587395" stroke-width="0.7" stroke-linejoin="round">FEB. 4</text>
<text x="166.10" y="655.40" font-size="16.2" font-weight="bold" fill="#587395" textLength="70.73" lengthAdjust="spacingAndGlyphs" stroke="#587395" stroke-width="0.35" stroke-linejoin="round">Q1 2022:</text>
<text x="166.08" y="672.90" font-size="16.5" font-weight="normal" fill="#587395" textLength="48.30" lengthAdjust="spacingAndGlyphs" stroke="#587395" stroke-width="0.7" stroke-linejoin="round">MAY 5</text>
<text x="166.08" y="875.40" font-size="16.2" font-weight="bold" fill="#587395" textLength="73.62" lengthAdjust="spacingAndGlyphs" stroke="#587395" stroke-width="0.35" stroke-linejoin="round">Q2 2022:</text>
<text x="167.37" y="892.90" font-size="16.5" font-weight="normal" fill="#587395" textLength="52.10" lengthAdjust="spacingAndGlyphs" stroke="#587395" stroke-width="0.7" stroke-linejoin="round">AUG. 4</text>
<text x="165.87" y="1093.50" font-size="16.2" font-weight="bold" fill="#587395" textLength="73.83" lengthAdjust="spacingAndGlyphs" stroke="#587395" stroke-width="0.35" stroke-linejoin="round">Q3 2022:</text>
<text x="165.94" y="1111.20" font-size="16.5" font-weight="normal" fill="#587395" textLength="50.52" lengthAdjust="spacingAndGlyphs" stroke="#587395" stroke-width="0.7" stroke-linejoin="round">NOV. 4</text>
<text x="288.80" y="516.00" font-size="16.2" font-weight="bold" fill="#587395" textLength="71.35" lengthAdjust="spacingAndGlyphs" stroke="#587395" stroke-width="0.35" stroke-linejoin="round">Q4 2021:</text>
<text x="288.77" y="533.40" font-size="16.5" font-weight="normal" fill="#587395" textLength="82.14" lengthAdjust="spacingAndGlyphs" stroke="#587395" stroke-width="0.7" stroke-linejoin="round">MARCH 18</text>
<text x="288.80" y="738.80" font-size="16.2" font-weight="bold" fill="#587395" textLength="70.73" lengthAdjust="spacingAndGlyphs" stroke="#587395" stroke-width="0.35" stroke-linejoin="round">Q1 2022:</text>
<text x="289.86" y="755.70" font-size="16.5" font-weight="normal" fill="#587395" textLength="62.63" lengthAdjust="spacingAndGlyphs" stroke="#587395" stroke-width="0.7" stroke-linejoin="round">JUNE 16</text>
<text x="288.78" y="953.30" font-size="16.2" font-weight="bold" fill="#587395" textLength="72.90" lengthAdjust="spacingAndGlyphs" stroke="#587395" stroke-width="0.35" stroke-linejoin="round">Q2 2022:</text>
<text x="289.42" y="971.10" font-size="16.5" font-weight="normal" fill="#587395" textLength="64.21" lengthAdjust="spacingAndGlyphs" stroke="#587395" stroke-width="0.7" stroke-linejoin="round">SEPT. 15</text>
<text x="288.88" y="1174.00" font-size="16.2" font-weight="bold" fill="#587395" textLength="72.80" lengthAdjust="spacingAndGlyphs" stroke="#587395" stroke-width="0.35" stroke-linejoin="round">Q3 2022:</text>
<text x="288.94" y="1191.50" font-size="16.5" font-weight="normal" fill="#587395" textLength="57.83" lengthAdjust="spacingAndGlyphs" stroke="#587395" stroke-width="0.7" stroke-linejoin="round">DEC. 16</text>
<text x="426.82" y="579.00" font-size="16.2" font-weight="bold" fill="#072c55" textLength="50.32" lengthAdjust="spacingAndGlyphs" stroke="#072c55" stroke-width="0.35" stroke-linejoin="round">YEAR-</text>
<text x="425.98" y="597.00" font-size="16.2" font-weight="bold" fill="#072c55" textLength="35.43" lengthAdjust="spacingAndGlyphs" stroke="#072c55" stroke-width="0.35" stroke-linejoin="round">END</text>
<text x="426.54" y="615.40" font-size="16.2" font-weight="bold" fill="#072c55" textLength="41.10" lengthAdjust="spacingAndGlyphs" stroke="#072c55" stroke-width="0.35" stroke-linejoin="round">2021:</text>
<text x="427.07" y="633.30" font-size="16.5" font-weight="normal" fill="#072c55" textLength="60.23" lengthAdjust="spacingAndGlyphs" stroke="#072c55" stroke-width="0.7" stroke-linejoin="round">APRIL 8</text>
<text x="545.02" y="579.00" font-size="16.2" font-weight="bold" fill="#072c55" textLength="50.32" lengthAdjust="spacingAndGlyphs" stroke="#072c55" stroke-width="0.35" stroke-linejoin="round">YEAR-</text>
<text x="544.18" y="597.00" font-size="16.2" font-weight="bold" fill="#072c55" textLength="35.43" lengthAdjust="spacingAndGlyphs" stroke="#072c55" stroke-width="0.35" stroke-linejoin="round">END</text>
<text x="544.74" y="615.40" font-size="16.2" font-weight="bold" fill="#072c55" textLength="41.10" lengthAdjust="spacingAndGlyphs" stroke="#072c55" stroke-width="0.35" stroke-linejoin="round">2021:</text>
<text x="545.27" y="633.30" font-size="16.5" font-weight="normal" fill="#072c55" textLength="60.23" lengthAdjust="spacingAndGlyphs" stroke="#072c55" stroke-width="0.7" stroke-linejoin="round">APRIL 8</text>
<text x="663.52" y="579.00" font-size="16.2" font-weight="bold" fill="#072c55" textLength="50.32" lengthAdjust="spacingAndGlyphs" stroke="#072c55" stroke-width="0.35" stroke-linejoin="round">YEAR-</text>
<text x="662.68" y="597.00" font-size="16.2" font-weight="bold" fill="#072c55" textLength="35.43" lengthAdjust="spacingAndGlyphs" stroke="#072c55" stroke-width="0.35" stroke-linejoin="round">END</text>
<text x="663.24" y="615.40" font-size="16.2" font-weight="bold" fill="#072c55" textLength="41.10" lengthAdjust="spacingAndGlyphs" stroke="#072c55" stroke-width="0.35" stroke-linejoin="round">2021:</text>
<text x="663.77" y="633.30" font-size="16.5" font-weight="normal" fill="#072c55" textLength="60.23" lengthAdjust="spacingAndGlyphs" stroke="#072c55" stroke-width="0.7" stroke-linejoin="round">APRIL 8</text>
<text x="741.73" y="707.50" font-size="16.2" font-weight="bold" fill="#072c55" textLength="49.51" lengthAdjust="spacingAndGlyphs" stroke="#072c55" stroke-width="0.35" stroke-linejoin="round">YEAR-</text>
<text x="748.38" y="725.00" font-size="16.2" font-weight="bold" fill="#072c55" textLength="35.43" lengthAdjust="spacingAndGlyphs" stroke="#072c55" stroke-width="0.35" stroke-linejoin="round">END</text>
<text x="745.94" y="743.10" font-size="16.2" font-weight="bold" fill="#072c55" textLength="41.10" lengthAdjust="spacingAndGlyphs" stroke="#072c55" stroke-width="0.35" stroke-linejoin="round">2021:</text>
<text x="736.12" y="761.90" font-size="16.5" font-weight="normal" fill="#072c55" textLength="59.73" lengthAdjust="spacingAndGlyphs" stroke="#072c55" stroke-width="0.7" stroke-linejoin="round">MAY 20</text>
<text x="461.70" y="759.20" font-size="16.0" font-weight="bold" fill="#072c55" textLength="174.76" lengthAdjust="spacingAndGlyphs" stroke="#072c55" stroke-width="0.35" stroke-linejoin="round">ALSO DUE ON APR. 8:</text>
<text x="462.03" y="782.60" font-size="17" font-weight="normal" fill="#072c55" textLength="154.50" lengthAdjust="spacingAndGlyphs">• Director’s accuracy</text>
<text x="461.19" y="799.50" font-size="17" font-weight="normal" fill="#072c55" textLength="144.28" lengthAdjust="spacingAndGlyphs">certificate on SFCR</text>
<text x="462.03" y="823.50" font-size="17" font-weight="normal" fill="#072c55" textLength="154.50" lengthAdjust="spacingAndGlyphs">• Director‘s accuracy</text>
<text x="461.20" y="840.40" font-size="17" font-weight="normal" fill="#072c55" textLength="141.80" lengthAdjust="spacingAndGlyphs">certificate on QRTs</text>
<text x="462.02" y="863.90" font-size="17" font-weight="normal" fill="#072c55" textLength="180.90" lengthAdjust="spacingAndGlyphs">• Compliance statement</text>
<text x="460.99" y="979.00" font-size="16.0" font-weight="bold" fill="#072c55" textLength="51.82" lengthAdjust="spacingAndGlyphs" stroke="#072c55" stroke-width="0.35" stroke-linejoin="round">NOTE:</text>
<text x="460.70" y="996.30" font-size="17" font-weight="normal" fill="#072c55" textLength="160.92" lengthAdjust="spacingAndGlyphs">For undertakings that</text>
<text x="461.63" y="1014.50" font-size="17" font-weight="normal" fill="#072c55" textLength="192.95" lengthAdjust="spacingAndGlyphs">submitted the full RSR for</text>
<text x="462.06" y="1031.50" font-size="17" font-weight="normal" fill="#072c55" textLength="173.46" lengthAdjust="spacingAndGlyphs">year-end 2018, the next</text>
<text x="461.87" y="1050.00" font-size="17" font-weight="normal" fill="#072c55" textLength="176.20" lengthAdjust="spacingAndGlyphs">full RSR will be required</text>
<text x="461.86" y="1067.50" font-size="17" font-weight="normal" fill="#072c55" textLength="131.25" lengthAdjust="spacingAndGlyphs">for year-end 2021</text>
<text x="672.10" y="1195.90" font-size="34.5" font-weight="bold" fill="#343c4a" textLength="27.40" lengthAdjust="spacingAndGlyphs" stroke="#343c4a" stroke-width="0.5" stroke-linejoin="round">M</text>
<text x="700.67" y="1195.90" font-size="34.5" font-weight="bold" fill="#343c4a" textLength="7.29" lengthAdjust="spacingAndGlyphs" stroke="#343c4a" stroke-width="0.5" stroke-linejoin="round">i</text>
<text x="710.07" y="1195.90" font-size="34.5" font-weight="bold" fill="#343c4a" textLength="7.29" lengthAdjust="spacingAndGlyphs" stroke="#343c4a" stroke-width="0.5" stroke-linejoin="round">l</text>
<text x="719.57" y="1195.90" font-size="34.5" font-weight="bold" fill="#343c4a" textLength="7.29" lengthAdjust="spacingAndGlyphs" stroke="#343c4a" stroke-width="0.5" stroke-linejoin="round">l</text>
<text x="728.47" y="1195.90" font-size="34.5" font-weight="bold" fill="#343c4a" textLength="7.69" lengthAdjust="spacingAndGlyphs" stroke="#343c4a" stroke-width="0.5" stroke-linejoin="round">i</text>
<text x="736.49" y="1195.90" font-size="34.5" font-weight="bold" fill="#343c4a" textLength="29.79" lengthAdjust="spacingAndGlyphs" stroke="#343c4a" stroke-width="0.5" stroke-linejoin="round">m</text>
<text x="766.54" y="1195.90" font-size="34.5" font-weight="bold" fill="#343c4a" textLength="14.39" lengthAdjust="spacingAndGlyphs" stroke="#343c4a" stroke-width="0.5" stroke-linejoin="round">a</text>
<text x="781.85" y="1195.90" font-size="34.5" font-weight="bold" fill="#343c4a" textLength="18.09" lengthAdjust="spacingAndGlyphs" stroke="#343c4a" stroke-width="0.5" stroke-linejoin="round">n</text>
</svg>
</body></html>
